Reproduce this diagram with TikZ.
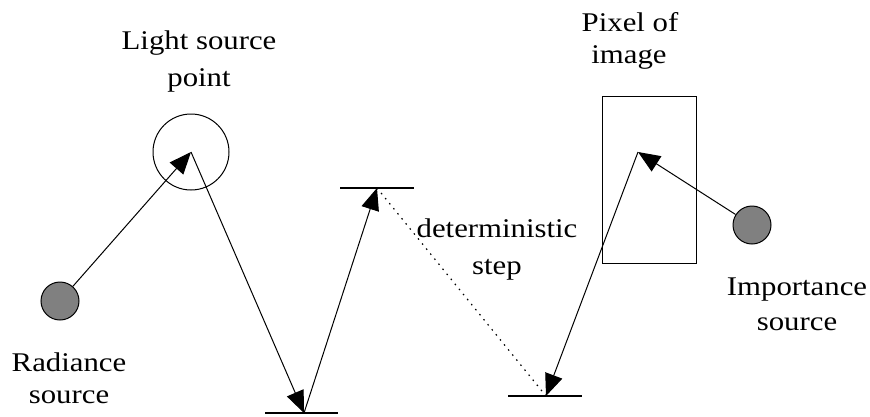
\documentclass[tikz,border=0pt]{standalone}
\usepackage{fontspec}
\setmainfont[FakeStretch=1.14]{Liberation Serif}
\usetikzlibrary{arrows.meta}
\definecolor{srcgray}{RGB}{128,128,128}
\begin{document}
\begin{tikzpicture}[x=1pt,y=-1pt,
  arr/.style={-{Triangle[length=22pt,width=18pt]}, line width=1pt},
  surf/.style={line width=1.4pt},
  lbl/.style={anchor=base, inner sep=0pt, font=\fontsize{27}{32}\selectfont},
  src/.style={circle, draw, fill=srcgray, minimum size=38pt, inner sep=0pt, line width=1pt},
  detdot/.style={line width=1.2pt, dash pattern=on 1.5pt off 5pt}]
\useasboundingbox (0,0) rectangle (870,416);
% shapes
\node[circle, draw, line width=1pt, minimum size=76pt, inner sep=0pt] (lsp) at (191,152) {};
\node[src] (rad) at (60,301) {};
\node[src] (imp) at (752,225) {};
\node[rectangle, draw, line width=1pt, minimum width=94pt, minimum height=167pt, inner sep=0pt] (pix) at (649,179.5) {};
% surface points
\coordinate (p1) at (304,413);
\coordinate (p2) at (377,188);
\coordinate (p3) at (546,396);
\coordinate (p4) at (638,152);
% surfaces
\draw[surf] (p1) ++(-39,0) -- ++(73,0);
\draw[surf] (p2) ++(-37,0) -- ++(74,0);
\draw[surf] (p3) ++(-38,0) -- ++(74,0);
% connectors
\draw[arr] (rad) -- (lsp.center);
\draw[arr] (lsp.center) -- (p1);
\draw[arr] (p1) -- (p2);
\draw[detdot] (p2) -- (p3);
\draw[arr] (imp) -- (p4);
\draw[arr] (p4) -- (p3);
% labels
\node[lbl] (t1a) at (199,49) {Light source};
\node[lbl] (t1b) at (199,86) {point};
\node[lbl] (t2a) at (69,371) {Radiance};
\node[lbl] (t2b) at (69,403) {source};
\node[lbl] (t3a) at (497,237) {deterministic};
\node[lbl] (t3b) at (497,274) {step};
\node[lbl] (t4a) at (630,31) {Pixel of};
\node[lbl] (t4b) at (629,63) {image};
\node[lbl] (t5a) at (797,295) {Importance};
\node[lbl] (t5b) at (797,330) {source};
\end{tikzpicture}
\end{document}
